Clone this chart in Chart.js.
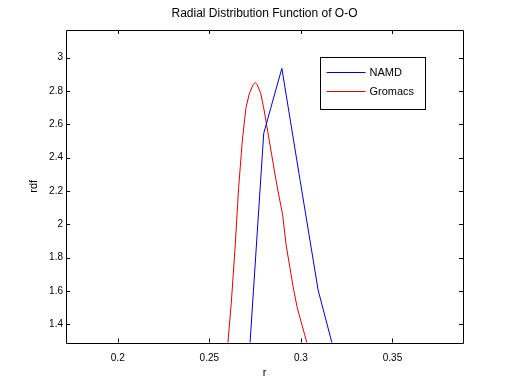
<!DOCTYPE html>
<html>
<head>
<meta charset="utf-8">
<script src="https://cdn.jsdelivr.net/npm/chart.js@4/dist/chart.umd.min.js"></script>
<style>
  html, body { margin: 0; padding: 0; background: #fff; }
  canvas { display: block; }
</style>
</head>
<body>
<canvas id="rdfChart" width="512" height="385"></canvas>
<script>
'use strict';

/* --- Data --- */
const namdR   = [0.2698, 0.2797, 0.2896, 0.2995, 0.3094, 0.3193];
const namdRdf = [0.88, 2.546, 2.936, 2.268, 1.606, 1.19];

const gromacsR   = [0.258, 0.260, 0.262, 0.264, 0.266, 0.268, 0.270, 0.272, 0.274, 0.275, 0.276, 0.278,
                    0.280, 0.282, 0.284, 0.286, 0.288, 0.290, 0.292, 0.294, 0.296, 0.298, 0.300, 0.302, 0.304, 0.306];
const gromacsRdf = [1.15, 1.27, 1.53, 1.85, 2.22, 2.50, 2.70, 2.79, 2.84, 2.85, 2.84, 2.79,
                    2.68, 2.55, 2.42, 2.29, 2.17, 2.06, 1.87, 1.74, 1.61, 1.50, 1.42, 1.34, 1.26, 1.18];

const xTicks = [0.2, 0.25, 0.3, 0.35];
const yTicks = [1.4, 1.6, 1.8, 2, 2.2, 2.4, 2.6, 2.8, 3];

const FONT = 'Helvetica, "Liberation Sans", Arial, sans-serif';

const toPoints = (xs, ys) => xs.map((x, i) => ({ x: x, y: ys[i] }));

/* --- MATLAB-ish frame: box, inward ticks on all four sides --- */
const frameTicks = {
  id: 'frameTicks',
  afterDatasetsDraw(chart) {
    const { ctx, chartArea: a, scales: { x, y } } = chart;
    const len = 4;
    ctx.save();
    ctx.strokeStyle = '#000';
    ctx.lineWidth = 1;
    ctx.beginPath();
    ctx.rect(Math.round(a.left) + 0.5, Math.round(a.top) + 0.5,
             Math.round(a.right - a.left), Math.round(a.bottom - a.top));
    xTicks.forEach(v => {
      const px = Math.round(x.getPixelForValue(v)) + 0.5;
      ctx.moveTo(px, a.bottom); ctx.lineTo(px, a.bottom - len);
      ctx.moveTo(px, a.top);    ctx.lineTo(px, a.top + len);
    });
    yTicks.forEach(v => {
      const py = Math.round(y.getPixelForValue(v)) + 0.5;
      ctx.moveTo(a.left, py);  ctx.lineTo(a.left + len, py);
      ctx.moveTo(a.right, py); ctx.lineTo(a.right - len, py);
    });
    ctx.stroke();
    ctx.restore();
  }
};

/* --- Legend box in the upper right of the axes --- */
const boxLegend = {
  id: 'boxLegend',
  afterDraw(chart) {
    const { ctx } = chart;
    const bx = 320.5, by = 57.5, bw = 105, bh = 52;
    ctx.save();
    ctx.fillStyle = '#fff';
    ctx.fillRect(bx, by, bw, bh);
    ctx.strokeStyle = '#000';
    ctx.lineWidth = 1;
    ctx.strokeRect(bx, by, bw, bh);
    ctx.font = '11px ' + FONT;
    ctx.textBaseline = 'middle';
    chart.data.datasets.forEach((ds, i) => {
      const ly = by + 15 + i * 19;
      ctx.strokeStyle = ds.borderColor;
      ctx.beginPath();
      ctx.moveTo(bx + 6, ly); ctx.lineTo(bx + 45, ly);
      ctx.stroke();
      ctx.fillStyle = '#000';
      ctx.fillText(ds.label, bx + 49, ly + 0.5);
    });
    ctx.restore();
  }
};

new Chart(document.getElementById('rdfChart').getContext('2d'), {
  type: 'line',
  data: {
    datasets: [
      { label: 'NAMD', data: toPoints(namdR, namdRdf), borderColor: '#0000d0', borderWidth: 1,
        pointRadius: 0, tension: 0, fill: false },
      { label: 'Gromacs', data: toPoints(gromacsR, gromacsRdf), borderColor: '#e00000', borderWidth: 1,
        pointRadius: 0, tension: 0, fill: false }
    ]
  },
  options: {
    responsive: false,
    animation: false,
    layout: { padding: { left: 0, right: 49, top: 0, bottom: 0 } },
    plugins: {
      legend: { display: false },
      tooltip: { enabled: false },
      title: {
        display: true,
        fullSize: false,
        text: 'Radial Distribution Function of O-O',
        color: '#000',
        font: { family: FONT, size: 12, weight: 'normal', lineHeight: 1.2 },
        padding: { top: 6, bottom: 9.6 }
      }
    },
    scales: {
      x: {
        type: 'linear',
        min: 0.17175,
        max: 0.3885,
        grid: { display: false, drawTicks: false },
        border: { display: false },
        afterBuildTicks: s => { s.ticks = xTicks.map(v => ({ value: v })); },
        afterFit: s => { s.height = 42.5; },
        ticks: { color: '#000', padding: 10, maxRotation: 0, font: { family: FONT, size: 10 },
                 callback: v => String(v) },
        title: { display: true, text: 'r', color: '#000',
                 font: { family: FONT, size: 11, lineHeight: 1.2 }, padding: { top: 0, bottom: 5 } }
      },
      y: {
        type: 'linear',
        min: 1.291,
        max: 3.166,
        grid: { display: false, drawTicks: false },
        border: { display: false },
        afterBuildTicks: s => { s.ticks = yTicks.map(v => ({ value: v })); },
        afterFit: s => { s.width = 66; },
        ticks: { color: '#000', padding: 3, font: { family: FONT, size: 10 },
                 callback: v => String(v) },
        title: { display: true, text: 'rdf', color: '#000',
                 font: { family: FONT, size: 11, lineHeight: 1.2 }, padding: { top: 27.4, bottom: 0 } }
      }
    }
  },
  plugins: [frameTicks, boxLegend]
});
</script>
</body>
</html>
